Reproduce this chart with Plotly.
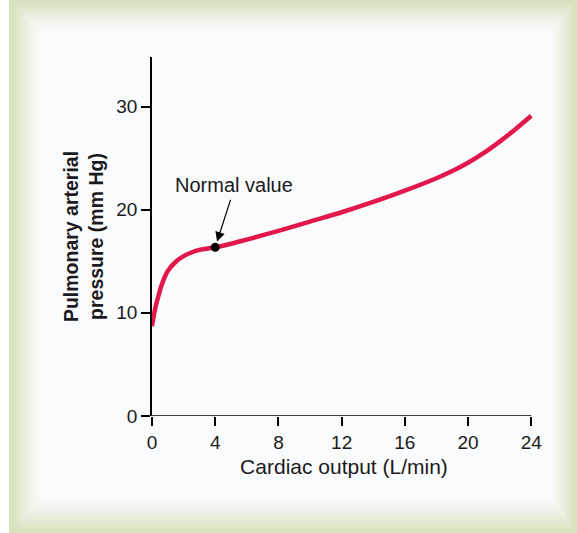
import plotly.graph_objects as go

# ---- data ----
cardiac_output = [0, 0.2, 0.4, 0.6, 0.8, 1.0, 1.5, 2.0, 2.5, 3.0, 4.0, 5.0, 6.0,
                  8.0, 10.0, 12.0, 14.0, 16.0, 18.0, 19.0, 20.0, 21.0, 22.0, 23.0, 24.0]
pulmonary_pressure = [8.7, 10.4, 11.6, 12.65, 13.45, 14.05, 14.95, 15.5, 15.85, 16.1,
                      16.35, 16.7, 17.1, 17.95, 18.85, 19.75, 20.75, 21.85, 23.05, 23.75,
                      24.55, 25.5, 26.6, 27.8, 29.1]
normal_x = [4.0]
normal_y = [16.35]
x_ticks = [0, 4, 8, 12, 16, 20, 24]
y_ticks = [0, 10, 20, 30]

# ---- layout geometry (pixels) ----
W_IMG, H_IMG = 577, 533
L, R, T, B = 152, 535.7, 56.5, 416.5
PW, PH = R - L, B - T

def px(xp):
    return (xp - L) / PW

def py(yp):
    return (B - yp) / PH

FONT = "Liberation Sans, Arial, sans-serif"
TXT = "#1a1a20"

fig = go.Figure()
fig.add_trace(go.Scatter(
    x=cardiac_output, y=pulmonary_pressure, mode="lines",
    line=dict(color="#e2174b", width=4.5, shape="spline", smoothing=1.0),
    hoverinfo="skip", showlegend=False))
fig.add_trace(go.Scatter(
    x=normal_x, y=normal_y, mode="markers",
    marker=dict(color="black", size=9), cliponaxis=False,
    hoverinfo="skip", showlegend=False))

# ---- frame with soft green gradient ----
shapes = []
green = (216, 226, 190)
white = (250, 251, 252)
shapes.append(dict(type="rect", xref="paper", yref="paper",
                   x0=px(9), x1=px(W_IMG + 2), y0=py(H_IMG + 2), y1=py(-2),
                   fillcolor="rgb(%d,%d,%d)" % green, line=dict(width=0), layer="below"))
outer = (13, 2, 573, 531)   # left, top, right, bottom
inner = (40, 30, 552, 500)
n = 14
for i in range(1, n + 1):
    t = i / n
    l = outer[0] + t * (inner[0] - outer[0])
    tp = outer[1] + t * (inner[1] - outer[1])
    r = outer[2] + t * (inner[2] - outer[2])
    b = outer[3] + t * (inner[3] - outer[3])
    tt = t ** 0.8
    c = tuple(round(green[k] + (white[k] - green[k]) * tt) for k in range(3))
    shapes.append(dict(type="rect", xref="paper", yref="paper",
                       x0=px(l), x1=px(r), y0=py(b), y1=py(tp),
                       fillcolor="rgb(%d,%d,%d)" % c, line=dict(width=0), layer="below"))
# x axis line ending at the last tick
shapes.append(dict(type="line", xref="x", yref="y", x0=0, x1=24, y0=0, y1=0,
                   line=dict(color="black", width=1.5), layer="above"))

fig.update_layout(
    width=W_IMG, height=H_IMG,
    margin=dict(l=L, r=W_IMG - R, t=T, b=H_IMG - B, pad=0),
    paper_bgcolor="white", plot_bgcolor="rgba(0,0,0,0)",
    font=dict(family=FONT, color=TXT),
    shapes=shapes,
    xaxis=dict(range=[0, 24.3], tickmode="array", tickvals=x_ticks,
               ticks="outside", ticklen=9, tickwidth=1.5, tickcolor="black",
               showline=False, showgrid=False, zeroline=False,
               tickfont=dict(size=19, family=FONT, color=TXT),
               title=dict(text="Cardiac output (L/min)", standoff=7,
                          font=dict(size=21, family=FONT, color=TXT))),
    yaxis=dict(range=[0, 34.8], tickmode="array", tickvals=y_ticks,
               ticks="outside", ticklen=9, tickwidth=1.5, tickcolor="black",
               showline=True, linecolor="black", linewidth=1.5,
               showgrid=False, zeroline=False,
               tickfont=dict(size=19, family=FONT, color=TXT),
               title=dict(text="<b>Pulmonary arterial</b><br><b>pressure (mm Hg)</b>",
                          standoff=7, font=dict(size=19.5, family=FONT, color=TXT))),
    annotations=[
        dict(x=4.0, y=16.35, xref="x", yref="y", ax=5.0, ay=21.1, axref="x", ayref="y",
             text="", showarrow=True, arrowhead=2, arrowsize=1.6, arrowwidth=1.2,
             arrowcolor="black", standoff=6),
        dict(x=5.2, y=22.4, xref="x", yref="y", text="Normal value", showarrow=False,
             font=dict(size=20, family=FONT, color=TXT)),
    ],
)

fig.write_html("out.html", config={"displayModeBar": False},
               post_script="document.body.style.margin='0';")
